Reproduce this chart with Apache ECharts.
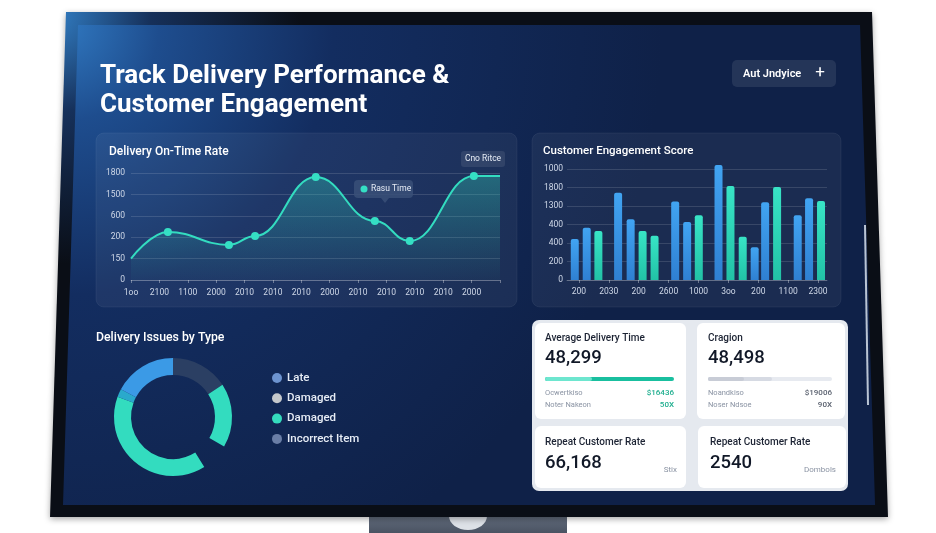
<!DOCTYPE html>
<html>
<head>
<meta charset="utf-8">
<script src="https://cdn.jsdelivr.net/npm/echarts@6/dist/echarts.min.js"></script>
<style>
  html, body { margin: 0; padding: 0; background: #fff; }
  #main { width: 936px; height: 533px; }
</style>
</head>
<body>
<div id="main"></div>
<script>
// delivery on-time rate (values are in grid steps, labels are what the axis shows)
var lineXLabels = ['1oo', '2100', '1100', '2000', '2010', '2010', '2010', '2000', '2010', '2010', '2010', '2010', '2000', ''];
var lineYLabels = ['0', '150', '200', '600', '1500', '1800'];
var lineX = [0, 1.3, 3.45, 4.37, 6.51, 8.59, 9.82, 12.08, 13];
var lineY = [1.0, 2.24, 1.64, 2.06, 4.81, 2.76, 1.82, 4.86, 4.86];
var lineMarked = [false, true, true, true, true, true, true, true, false];

// customer engagement score
var barXLabels = ['200', '2030', '200', '2600', '1000', '3oo', '200', '1100', '2300'];
var barYLabels = ['0', '200', '400', '400', '1300', '1800', '1000'];
var barPos = [-0.14, 0.26, 0.65, 1.31, 1.73, 2.13, 2.53, 3.22, 3.62, 4.01, 4.67, 5.07, 5.48, 5.88, 6.23, 6.63, 7.32, 7.70, 8.10];
var barScore = [2.22, 2.83, 2.65, 4.72, 3.28, 2.65, 2.39, 4.25, 3.14, 3.50, 6.22, 5.08, 2.34, 1.77, 4.20, 5.03, 3.50, 4.42, 4.27];
var barKind = ['b', 'b', 't', 'b', 'b', 't', 't', 'b', 'b', 't', 'b', 't', 't', 'b', 'b', 't', 'b', 'b', 't'];

// delivery issues donut (degrees of the ring, '' is the open gap)
var issueNames = ['Incorrect Item', 'Damaged', '', 'Damaged', 'Other', 'Late'];
var issueValues = [57, 63, 28, 142, 8, 62];
var legendNames = ['Late', 'Damaged', 'Damaged', 'Incorrect Item'];

// kpi cards
var kpiTitles = ['Average Delivery Time', 'Cragion', 'Repeat Customer Rate', 'Repeat Customer Rate'];
var kpiValues = ['48,299', '48,498', '66,168', '2540'];

var issueColors = ['#2b3f63', '#33dcbf', 'rgba(0,0,0,0)', '#33dcbf', '#2aa9cc', '#3b9ae6'];
var legendColors = ['#6d94d0', '#c5c8cc', '#35dbbd', '#6a7ea6'];

var FONT = 'Roboto, "Noto Sans", sans-serif';
var axisText = '#cfd8e8';

function grad(c1, c2) {
    return { type: 'linear', x: 0, y: 0, x2: 0, y2: 1, colorStops: [{ offset: 0, color: c1 }, { offset: 1, color: c2 }] };
}

function txt(x, y, text, size, color, weight, align, z) {
    return {
        type: 'text', x: x, y: y, z: z || 5, silent: true,
        style: {
            text: text, fill: color, fontSize: size, fontWeight: weight || 'normal',
            fontFamily: FONT, textAlign: align || 'left', textVerticalAlign: 'middle'
        }
    };
}

var chart = echarts.init(document.getElementById('main'));

var graphics = [
    // stand
    { type: 'rect', z: -30, silent: true, shape: { x: 369, y: 510, width: 198, height: 23 }, style: { fill: grad('#6a7586', '#4a5362') } },
    { type: 'ellipse', z: -29, silent: true, shape: { cx: 468, cy: 516, rx: 19, ry: 14 }, style: { fill: '#dde1e7' } },
    // bezel + screen
    { type: 'polygon', z: -25, silent: true, shape: { points: [[66, 12], [872, 12], [888, 517], [50, 517]] },
      style: { fill: { type: 'radial', x: 0, y: 0, r: 0.5, colorStops: [{ offset: 0, color: '#3381c8' }, { offset: 0.4, color: '#16305a' }, { offset: 1, color: '#0a0e16' }] },
               shadowBlur: 6, shadowColor: 'rgba(0,0,0,0.35)', shadowOffsetY: 2 } },
    { type: 'polygon', z: -24, silent: true, shape: { points: [[78, 25], [860, 25], [875, 505], [63, 505]] },
      style: { fill: { type: 'radial', x: 0, y: 0, r: 1.25, colorStops: [{ offset: 0, color: '#3078c0' }, { offset: 0.16, color: '#1e4d8e' }, { offset: 0.45, color: '#132d60' }, { offset: 1, color: '#0f2148' }] } } },
    { type: 'line', z: -23, silent: true, shape: { x1: 865, y1: 225, x2: 868, y2: 405 }, style: { stroke: '#b9c4d4', lineWidth: 2 } },

    // header
    txt(100, 76, 'Track Delivery Performance &', 26, '#ffffff', 'bold'),
    txt(100, 105, 'Customer Engagement', 26, '#ffffff', 'bold'),
    { type: 'rect', z: -10, silent: true, shape: { x: 732, y: 60, width: 104, height: 27, r: 5 }, style: { fill: 'rgba(255,255,255,0.09)' } },
    txt(743, 74, 'Aut Jndyice', 11, '#ffffff', 600),
    txt(820, 73, '+', 17, '#ffffff', 'normal', 'center'),

    // panels
    { type: 'rect', z: -15, silent: true, shape: { x: 96, y: 133, width: 421, height: 174, r: 8 }, style: { fill: 'rgba(255,255,255,0.05)', stroke: 'rgba(255,255,255,0.06)' } },
    { type: 'rect', z: -15, silent: true, shape: { x: 532, y: 133, width: 309, height: 174, r: 8 }, style: { fill: 'rgba(255,255,255,0.05)', stroke: 'rgba(255,255,255,0.06)' } },
    txt(109, 152, 'Delivery On-Time Rate', 12, '#ffffff', 500),
    txt(543, 151, 'Customer Engagement Score', 11.5, '#ffffff', 500),
    txt(96, 338, 'Delivery Issues by Type', 12.3, '#ffffff', 500),

    // badge + hover box on the line chart
    { type: 'rect', z: 8, silent: true, shape: { x: 461, y: 151, width: 44, height: 16, r: 3 }, style: { fill: 'rgba(255,255,255,0.09)' } },
    txt(483, 159, 'Cno Ritce', 8.5, '#e6ecf5', 'normal', 'center', 9),
    { type: 'rect', z: 8, silent: true, shape: { x: 354, y: 180, width: 59, height: 18, r: 4 }, style: { fill: 'rgba(58,80,120,0.85)' } },
    { type: 'polygon', z: 8, silent: true, shape: { points: [[381, 198], [389, 198], [385, 203]] }, style: { fill: 'rgba(58,80,120,0.85)' } },
    { type: 'circle', z: 9, silent: true, shape: { cx: 364, cy: 189, r: 3.5 }, style: { fill: '#35dfc4' } },
    txt(371, 189, 'Rasu Time', 8.5, '#e6ecf5', 'normal', 'left', 9),

    // kpi block
    { type: 'rect', z: -15, silent: true, shape: { x: 532, y: 320, width: 316, height: 171, r: 7 }, style: { fill: '#e5e9ef' } },
    { type: 'rect', z: -14, silent: true, shape: { x: 535, y: 323, width: 151, height: 96, r: 6 }, style: { fill: '#ffffff' } },
    { type: 'rect', z: -14, silent: true, shape: { x: 697, y: 323, width: 148, height: 96, r: 6 }, style: { fill: '#ffffff' } },
    { type: 'rect', z: -14, silent: true, shape: { x: 535, y: 426, width: 151, height: 62, r: 6 }, style: { fill: '#ffffff' } },
    { type: 'rect', z: -14, silent: true, shape: { x: 698, y: 426, width: 148, height: 62, r: 6 }, style: { fill: '#ffffff' } },

    txt(545, 338, kpiTitles[0], 10, '#1c2333', 500),
    txt(545, 358, kpiValues[0], 18.5, '#111827', 500),
    { type: 'rect', z: 5, silent: true, shape: { x: 545, y: 377, width: 129, height: 4, r: 2 }, style: { fill: '#19bf9f' } },
    { type: 'rect', z: 6, silent: true, shape: { x: 545, y: 377, width: 47, height: 4, r: 2 }, style: { fill: '#6ee6cf' } },
    txt(545, 393, 'Ocwertkiso', 7.5, '#8a93a3'),
    txt(545, 405, 'Noter Nakeon', 7.5, '#8a93a3'),
    txt(674, 393, '$16436', 8, '#1fae8f', 500, 'right'),
    txt(674, 405, '50X', 8, '#1fae8f', 500, 'right'),

    txt(708, 338, kpiTitles[1], 10, '#1c2333', 500),
    txt(708, 358, kpiValues[1], 18.5, '#111827', 500),
    { type: 'rect', z: 5, silent: true, shape: { x: 708, y: 377, width: 124, height: 4, r: 2 }, style: { fill: '#e7eaf0' } },
    { type: 'rect', z: 6, silent: true, shape: { x: 708, y: 377, width: 64, height: 4, r: 2 }, style: { fill: '#d6dae3' } },
    { type: 'rect', z: 7, silent: true, shape: { x: 708, y: 377, width: 36, height: 4, r: 2 }, style: { fill: '#c8ccd6' } },
    txt(708, 393, 'Noandkiso', 7.5, '#8a93a3'),
    txt(708, 405, 'Noser Ndsoe', 7.5, '#8a93a3'),
    txt(832, 393, '$19006', 8, '#5b6270', 500, 'right'),
    txt(832, 405, '90X', 8, '#5b6270', 500, 'right'),

    txt(545, 442, kpiTitles[2], 10, '#1c2333', 500),
    txt(545, 463, kpiValues[2], 18.5, '#111827', 500),
    txt(677, 470, 'Stix', 8, '#8a93a3', 'normal', 'right'),

    txt(710, 442, kpiTitles[3], 10, '#1c2333', 500),
    txt(710, 463, kpiValues[3], 18.5, '#111827', 500),
    txt(836, 470, 'Dombols', 8, '#8a93a3', 'normal', 'right')
];

// donut legend
legendNames.forEach(function (name, i) {
    var y = 378 + i * 20.3;
    graphics.push({ type: 'circle', z: 5, silent: true, shape: { cx: 277, cy: y, r: 5 }, style: { fill: legendColors[i] } });
    graphics.push(txt(287, y, name, 11.5, '#e6ecf5', 500));
});

var option = {
    backgroundColor: '#ffffff',
    animation: false,
    graphic: graphics,
    grid: [
        { left: 131, right: 436, top: 173, bottom: 253 },
        { left: 567, right: 109, top: 169, bottom: 253 }
    ],
    xAxis: [
        {
            gridIndex: 0, type: 'value', min: 0, max: 13, interval: 1,
            axisLine: { show: true, lineStyle: { color: 'rgba(255,255,255,0.22)' } },
            axisTick: { show: true, length: 3, lineStyle: { color: 'rgba(255,255,255,0.35)' } },
            splitLine: { show: false },
            axisLabel: {
                color: axisText, fontSize: 8.5, fontFamily: FONT, margin: 8,
                formatter: function (v) { return lineXLabels[Math.round(v)] || ''; }
            }
        },
        {
            gridIndex: 1, type: 'value', min: -0.4, max: 8.3,
            axisLine: { show: true, lineStyle: { color: 'rgba(255,255,255,0.22)' } },
            axisTick: { show: true, length: 3, customValues: barXLabels.map(function (_, i) { return i; }), lineStyle: { color: 'rgba(255,255,255,0.35)' } },
            splitLine: { show: false },
            axisLabel: {
                customValues: barXLabels.map(function (_, i) { return i; }),
                color: axisText, fontSize: 8.5, fontFamily: FONT, margin: 7,
                formatter: function (v) { return barXLabels[Math.round(v)] || ''; }
            }
        }
    ],
    yAxis: [
        {
            gridIndex: 0, type: 'value', min: 0, max: 5, interval: 1,
            axisLine: { show: false }, axisTick: { show: false },
            splitLine: { lineStyle: { color: 'rgba(255,255,255,0.13)' } },
            axisLabel: {
                color: axisText, fontSize: 8.5, fontFamily: FONT, margin: 6,
                formatter: function (v) { return lineYLabels[Math.round(v)]; }
            }
        },
        {
            gridIndex: 1, type: 'value', min: 0, max: 6, interval: 1,
            axisLine: { show: false }, axisTick: { show: false },
            splitLine: { lineStyle: { color: 'rgba(255,255,255,0.13)' } },
            axisLabel: {
                color: axisText, fontSize: 8.5, fontFamily: FONT, margin: 4,
                formatter: function (v) { return barYLabels[Math.round(v)]; }
            }
        }
    ],
    series: [
        {
            type: 'line', xAxisIndex: 0, yAxisIndex: 0,
            smooth: 0.45, smoothMonotone: 'x',
            symbolSize: 8,
            itemStyle: { color: '#35dfc4' },
            lineStyle: { color: '#33dcc0', width: 2 },
            areaStyle: { color: grad('rgba(52,224,195,0.45)', 'rgba(52,224,195,0.03)') },
            data: lineX.map(function (x, i) {
                return { value: [x, lineY[i]], symbol: lineMarked[i] ? 'circle' : 'none' };
            })
        },
        {
            type: 'bar', xAxisIndex: 1, yAxisIndex: 1,
            barWidth: 8, clip: false,
            data: barPos.map(function (x, i) {
                var c = barKind[i] === 'b' ? grad('#41a4f2', '#2f80d2') : grad('#38e4c6', '#22c2a6');
                return { value: [x, barScore[i]], itemStyle: { color: c, borderRadius: [2, 2, 0, 0] } };
            })
        },
        {
            type: 'pie', center: [173, 417], radius: [42, 59],
            startAngle: 90, clockwise: true, silent: true,
            label: { show: false }, labelLine: { show: false },
            data: issueNames.map(function (n, i) {
                return { name: n, value: issueValues[i], itemStyle: { color: issueColors[i] } };
            })
        }
    ]
};

chart.setOption(option);
</script>
</body>
</html>
